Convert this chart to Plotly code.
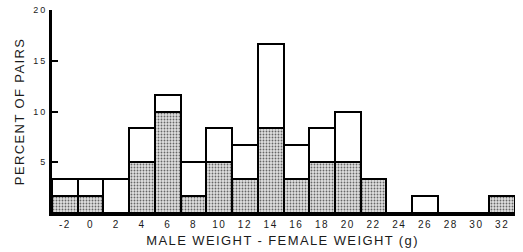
import plotly.graph_objects as go

diff_g = [-2, 0, 2, 4, 6, 8, 10, 12, 14, 16, 18, 20, 22, 24, 26, 28, 30, 32]
tick_labels = ["-2", "0", "2", "4", "6", "8", "10", "12", "14", "16", "18", "20", "22", "24", "26", "28", "30", "32"]
total_pct = [3.33, 3.33, 3.33, 8.33, 11.67, 5.0, 8.33, 6.67, 16.67, 6.67, 8.33, 10.0, 3.33, 0, 1.67, 0, 0, 1.67]
shaded_pct = [1.67, 1.67, 0, 5.0, 10.0, 1.67, 5.0, 3.33, 8.33, 3.33, 5.0, 5.0, 3.33, 0, 0, 0, 0, 1.67]
upper_pct = [t - s for t, s in zip(total_pct, shaded_pct)]

fig = go.Figure()
fig.add_trace(go.Bar(
    x=diff_g, y=shaded_pct, width=2,
    marker=dict(color="#d0d0d0", line=dict(color="black", width=2),
                pattern=dict(shape=".", fgcolor="#666666", bgcolor="#e0e0e0", size=3, solidity=0.3)),
    showlegend=False,
))
fig.add_trace(go.Bar(
    x=diff_g, y=upper_pct, width=2,
    marker=dict(color="white", line=dict(color="black", width=2)),
    showlegend=False,
))

fig.update_layout(
    template="none",
    width=523, height=252,
    margin=dict(l=52, r=8, t=10, b=39, pad=0, autoexpand=False),
    barmode="stack", bargap=0,
    plot_bgcolor="white", paper_bgcolor="white",
    font=dict(family="Liberation Sans, Arial, sans-serif", color="#1a1a1a"),
)
fig.update_xaxes(
    range=[-3, 33], tickvals=diff_g, ticktext=tick_labels, automargin=False,
    showline=True, linewidth=3, linecolor="black", ticks="",
    showgrid=False, zeroline=False, tickfont=dict(size=10), ticklabelstandoff=0,
)
fig.update_yaxes(
    range=[0, 20], tickvals=[5, 10, 15, 20], ticktext=["5", "10", "15", "20"], automargin=False,
    showline=True, linewidth=3, linecolor="black", ticks="inside", ticklen=6, tickwidth=2,
    tickcolor="black", showgrid=False, zeroline=False, tickfont=dict(size=9),
)
fig.add_annotation(
    text="PERCENT OF PAIRS", textangle=-90, xref="paper", yref="paper",
    x=-52/463, y=0.5, xanchor="left", yanchor="middle", xshift=10,
    showarrow=False, font=dict(size=13),
)
fig.add_annotation(
    text="MALE WEIGHT - FEMALE WEIGHT (g)", xref="paper", yref="paper",
    x=(282 - 52) / 463, y=0, yshift=-27, yanchor="middle",
    showarrow=False, font=dict(size=13),
)
fig.write_html(
    "out.html",
    config={"displayModeBar": False},
    post_script=(
        "document.body.style.margin='0';document.body.style.padding='0';"
        "document.body.style.overflow='hidden';"
        "document.querySelectorAll('.annotation-text').forEach(function(e){e.style.letterSpacing='1.4px';});"
        "document.querySelectorAll('.xtick text').forEach(function(e){e.style.letterSpacing='1.5px';});"
        "document.querySelectorAll('.ytick text').forEach(function(e){e.style.letterSpacing='2px';});"
    ),
)
